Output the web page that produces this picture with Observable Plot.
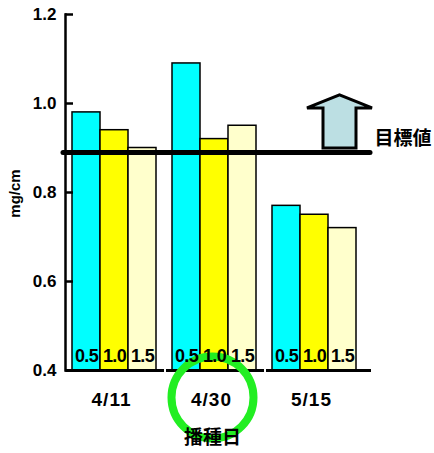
<!DOCTYPE html>
<html>
<head>
<meta charset="utf-8">
<script src="https://cdn.jsdelivr.net/npm/d3@7"></script>
<script src="https://cdn.jsdelivr.net/npm/@observablehq/plot@0.6"></script>
<style>
  html, body { margin: 0; padding: 0; background: #fff; }
  .date-label text { letter-spacing: 1px; }
  .rate-label text { letter-spacing: -0.6px; }
</style>
</head>
<body>
<div id="chart"></div>
<script>
// Sowing dates (groups) and seeding rates (bars within each group)
const sowingDates = ["4/11", "4/30", "5/15"];
const seedRates = ["0.5", "1.0", "1.5"];

// Values (mg/cm) for each seeding rate, one per sowing date
const rate05 = [0.98, 1.09, 0.77];
const rate10 = [0.94, 0.92, 0.75];
const rate15 = [0.90, 0.95, 0.72];

const yTicks = [0.4, 0.6, 0.8, 1.0, 1.2];
const targetValue = 0.89;
const targetLabel = "目標値";
const xTitle = "播種日";
const yTitle = "mg/cm";
const highlightedDate = "4/30";
const rateColors = ["#00ffff", "#ffff00", "#ffffcc"];

const seriesValues = [rate05, rate10, rate15];
const rows = sowingDates.flatMap((date, i) =>
  seedRates.map((rate, j) => ({date, rate, value: seriesValues[j][i]}))
);
const yMin = yTicks[0];
const yMax = yTicks[yTicks.length - 1];

const latin = "'Liberation Sans', Arial, sans-serif";
const cjk = "'Noto Sans CJK JP', 'Noto Sans CJK SC', sans-serif";
const ringColor = "#22ee22";

const plot = Plot.plot({
  width: 434,
  height: 453,
  marginLeft: 65,
  marginRight: 69,
  marginTop: 14,
  marginBottom: 83,
  style: {fontFamily: latin, fontWeight: "bold", fontSize: "17px", color: "#000", background: "#fff", overflow: "visible"},
  fx: {domain: sowingDates, padding: 0, axis: null, label: null},
  x: {domain: seedRates, paddingInner: 0, paddingOuter: 0.244, align: 0.43, axis: null, label: null},
  y: {domain: [yMin, yMax], axis: null, label: null},
  color: {domain: seedRates, range: rateColors},
  marks: [
    // bars
    Plot.barY(rows, {fx: "date", x: "rate", y1: yMin, y2: "value", fill: "rate", stroke: "#000", strokeWidth: 1.5}),
    // y axis: line, inward ticks and labels
    Plot.frame({anchor: "left", facetAnchor: "left", strokeWidth: 2.5}),
    Plot.axisY(yTicks, {anchor: "left", tickFormat: d3.format(".1f"), tickSize: -8, tickPadding: 17, strokeWidth: 2.5, fontSize: 17, fontWeight: "bold"}),
    // baseline, broken between sowing dates
    Plot.ruleY(sowingDates.slice(0, -1), {fx: d => d, y: () => yMin, insetLeft: 1, insetRight: 1, strokeWidth: 3}),
    Plot.ruleY(sowingDates.slice(-1), {fx: d => d, y: () => yMin, insetLeft: 1, insetRight: -6, strokeWidth: 3}),
    // target line
    Plot.ruleY([targetValue], {strokeWidth: 5, strokeLinecap: "round", insetLeft: -2, insetRight: -5}),
    Plot.text([targetLabel], {fx: () => sowingDates[sowingDates.length - 1], y: () => targetValue, text: d => d, frameAnchor: "right", textAnchor: "start", dx: 9, dy: -14, fontFamily: cjk, fontSize: 19, fontWeight: "bold"}),
    // ring around the highlighted sowing date
    Plot.dot([highlightedDate], {fx: d => d, frameAnchor: "bottom", dx: -3, dy: 27, r: 41, fill: "none", stroke: ringColor, strokeWidth: 8}),
    // seeding rate labels at the foot of each bar
    Plot.text(rows, {fx: "date", x: "rate", text: "rate", frameAnchor: "bottom", dy: -14.5, lineAnchor: "middle", fontSize: 18, className: "rate-label"}),
    // sowing date labels
    Plot.text(sowingDates, {fx: d => d, text: d => d, frameAnchor: "bottom", dx: -4, dy: 29, lineAnchor: "middle", fontSize: 19, className: "date-label"}),
    // axis titles
    Plot.text([xTitle], {fx: () => highlightedDate, text: d => d, frameAnchor: "bottom", dx: -3, dy: 67, lineAnchor: "middle", fontFamily: cjk, fontSize: 19, fontWeight: "bold"}),
    Plot.text([yTitle], {fx: () => sowingDates[0], text: d => d, frameAnchor: "left", textAnchor: "middle", rotate: -90, dx: -50, dy: 1, lineAnchor: "middle", fontSize: 15})
  ]
});

// Block arrow pointing up from the target line
const ys = plot.scale("y");
const fxs = plot.scale("fx");
const yPos = v => ys.range[0] + (v - ys.domain[0]) / (ys.domain[1] - ys.domain[0]) * (ys.range[1] - ys.range[0]);
const frameRight = Math.max(...fxs.range);
const cx = frameRight - 25.5;
const base = yPos(targetValue) - 4;
const shaft = 16.5, head = 32.5, shaftLen = 40, tip = 53;
const arrowPath = [
  [cx - shaft, base], [cx - shaft, base - shaftLen], [cx - head, base - shaftLen],
  [cx, base - tip],
  [cx + head, base - shaftLen], [cx + shaft, base - shaftLen], [cx + shaft, base]
].map((p, i) => (i ? "L" : "M") + p[0] + "," + p[1]).join("") + "Z";

d3.select(plot).append("path")
  .attr("d", arrowPath)
  .attr("fill", "#bcdfe3")
  .attr("stroke", "#000")
  .attr("stroke-width", 3)
  .attr("stroke-linejoin", "miter");

document.getElementById("chart").append(plot);
</script>
</body>
</html>
